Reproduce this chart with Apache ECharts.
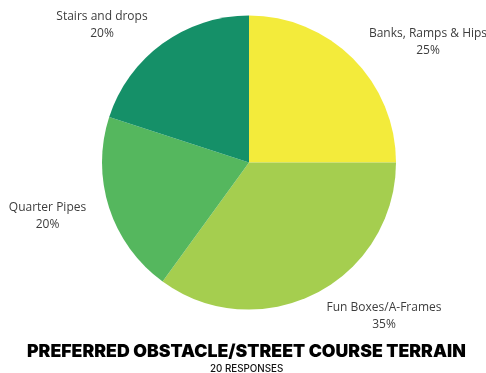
<!DOCTYPE html>
<html>
<head>
<meta charset="utf-8">
<script src="https://cdn.jsdelivr.net/npm/echarts@6/dist/echarts.min.js"></script>
<style>
  html, body { margin: 0; padding: 0; background: #ffffff; }
  #chart { width: 486px; height: 373px; }
</style>
</head>
<body>
<div id="chart"></div>
<script>
// Terrain categories and share of responses (percent), clockwise from 12 o'clock
const categories = ['Banks, Ramps & Hips', 'Fun Boxes/A-Frames', 'Quarter Pipes', 'Stairs and drops'];
const shares = [25, 35, 20, 20];
const titleText = 'PREFERRED OBSTACLE/STREET COURSE TERRAIN';
const subtitleText = '20 RESPONSES';

// slice colours
const sliceColors = ['#F3EB3B', '#A5CE4F', '#55B75E', '#159068'];
// label anchor points (centre of each two-line label)
const labelAnchors = [[428, 42], [384, 316], [47.5, 216], [102, 25]];

const chart = echarts.init(document.getElementById('chart'), null, { renderer: 'canvas' });

chart.setOption({
  animation: false,
  backgroundColor: '#ffffff',
  title: [
    {
      text: titleText,
      left: 22,
      top: 338,
      textStyle: { fontFamily: 'Inter', fontWeight: 900, fontSize: 17.7, color: '#000000' }
    },
    {
      text: subtitleText,
      left: 205,
      top: 359,
      textStyle: { fontFamily: 'Inter', fontWeight: 500, fontSize: 9.8, color: '#111111' }
    }
  ],
  series: [{
    type: 'pie',
    center: [249, 162.5],
    radius: [0, 147],
    startAngle: 90,
    clockwise: true,
    silent: true,
    label: {
      show: true,
      position: 'outside',
      alignTo: 'none',
      overflow: 'none',
      width: 200,
      formatter: p => p.name + '\n' + p.value + '%',
      fontFamily: 'Open Sans',
      fontSize: 12,
      lineHeight: 16.5,
      color: '#3d3d3d',
      align: 'center'
    },
    labelLine: { show: false },
    labelLayout: p => ({
      x: labelAnchors[p.dataIndex][0],
      y: labelAnchors[p.dataIndex][1],
      align: 'center',
      verticalAlign: 'middle'
    }),
    itemStyle: { borderWidth: 0 },
    data: categories.map((name, i) => ({
      name,
      value: shares[i],
      itemStyle: { color: sliceColors[i] }
    }))
  }]
});
</script>
</body>
</html>
